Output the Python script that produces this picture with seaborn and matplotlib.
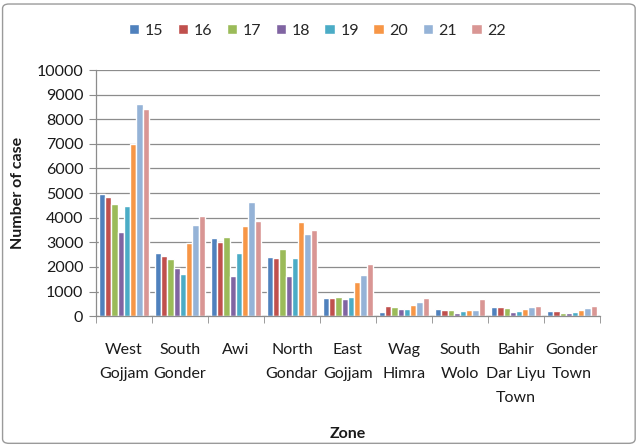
import matplotlib
matplotlib.use("Agg")
import matplotlib.pyplot as plt
import seaborn as sns
import pandas as pd
import numpy as np
from matplotlib.patches import FancyBboxPatch
from matplotlib.ticker import MultipleLocator, FixedLocator, NullFormatter

zones = ["West\nGojjam", "South\nGonder", "Awi", "North\nGondar", "East\nGojjam",
         "Wag\nHimra", "South\nWolo", "Bahir\nDar Liyu\nTown", "Gonder\nTown"]
years = ["15", "16", "17", "18", "19", "20", "21", "22"]

cases_15 = [4980, 2565, 3160, 2415, 730, 175, 305, 360, 210]
cases_16 = [4840, 2440, 3025, 2360, 745, 405, 235, 360, 210]
cases_17 = [4545, 2305, 3215, 2740, 770, 380, 235, 320, 150]
cases_18 = [3405, 1955, 1640, 1640, 700, 300, 150, 165, 150]
cases_19 = [4465, 1695, 2565, 2360, 770, 300, 195, 210, 165]
cases_20 = [6990, 2970, 3650, 3840, 1405, 445, 235, 290, 235]
cases_21 = [8640, 3720, 4640, 3340, 1675, 580, 235, 375, 345]
cases_22 = [8400, 4070, 3865, 3515, 2110, 730, 680, 430, 400]

series = [cases_15, cases_16, cases_17, cases_18, cases_19, cases_20, cases_21, cases_22]
palette = ["#4F81BD", "#C0504D", "#9BBB59", "#8064A2", "#4BACC6", "#F79646", "#95B3D7", "#D99694"]

df = pd.DataFrame({
    "Zone": [z for _ in years for z in zones],
    "Year": [y for y in years for _ in zones],
    "Cases": [v for s in series for v in s],
})

sns.set_style("white")
plt.rcParams["font.family"] = ["Lato", "DejaVu Sans"]

fig = plt.figure(figsize=(6.39, 4.46), dpi=100)
ax = fig.add_axes([0.150, 0.291, 0.789, 0.552])

sns.barplot(data=df, x="Zone", y="Cases", hue="Year", order=zones, hue_order=years,
            palette=palette, width=0.89, saturation=1, ax=ax, legend=True)

ax.set_ylim(0, 10000)
ax.set_xlim(-0.5, len(zones) - 0.5)
ax.yaxis.set_major_locator(MultipleLocator(1000))
ax.yaxis.grid(True, color="#8c8c8c", linewidth=0.9)
ax.set_axisbelow(True)

for side in ["top", "right"]:
    ax.spines[side].set_visible(False)
for side in ["left", "bottom"]:
    ax.spines[side].set_color("#8c8c8c")
    ax.spines[side].set_linewidth(0.9)

ax.tick_params(axis="y", which="major", left=True, length=5, color="#8c8c8c",
               labelsize=11.5, pad=4, labelcolor="#1a1a1a")
ax.tick_params(axis="x", which="major", bottom=False, labelsize=11.5, pad=16,
               labelcolor="#1a1a1a")
ax.xaxis.set_minor_locator(FixedLocator(np.arange(-0.5, len(zones), 1.0)))
ax.xaxis.set_minor_formatter(NullFormatter())
ax.tick_params(axis="x", which="minor", bottom=True, length=5, color="#8c8c8c")
for lab in ax.get_xticklabels():
    lab.set_linespacing(1.9)
    lab.set_verticalalignment("top")

ax.set_ylabel("Number of case", fontsize=11.5, fontweight="bold", labelpad=8, color="#1a1a1a")
ax.set_xlabel("Zone", fontsize=11.5, fontweight="bold", color="#1a1a1a")
ax.xaxis.set_label_coords(0.5, -0.45)

handles, labels = ax.get_legend_handles_labels()
ax.legend_.remove()
fig.legend(handles, labels, loc="center", bbox_to_anchor=(0.497, 0.931), ncol=8,
           frameon=False, fontsize=11.5, handlelength=0.65, handleheight=0.65,
           handletextpad=0.35, columnspacing=0.9)

border = FancyBboxPatch((0.004, 0.006), 0.99, 0.985, boxstyle="round,pad=0,rounding_size=0.01",
                        transform=fig.transFigure, fill=False, edgecolor="#9a9a9a",
                        linewidth=1.0, zorder=-1)
fig.patches.append(border)

fig.savefig("out.png", dpi=100)
